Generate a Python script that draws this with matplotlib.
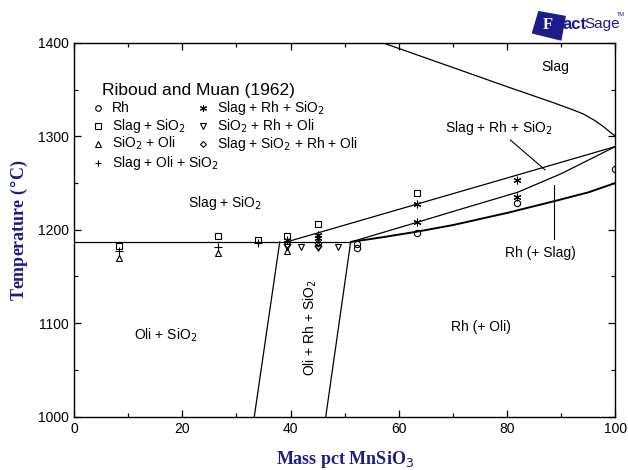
import matplotlib
matplotlib.use("Agg")
import matplotlib.pyplot as plt
from matplotlib.patches import Polygon
from matplotlib.ticker import MultipleLocator

# phase boundaries (mass pct MnSiO3, T in C)
liq_x = [57.0, 70.0, 80.0, 88.0, 92.0, 94.0, 96.0, 97.7, 99.0, 100.0]
liq_t = [1400, 1373.5, 1353, 1337, 1328.6, 1324, 1317.5, 1310.7, 1304.5, 1300]

eut_x = [0.0, 51.2]
eut_t = [1187, 1187]

upper_x = [39.3, 100.0]
upper_t = [1187, 1289]

mid_x = [51.2, 63.4, 72.0, 81.9, 90.0, 100.0]
mid_t = [1187, 1208, 1223, 1240, 1260, 1289]

low_x = [51.2, 57.0, 63.4, 70.0, 80.0, 89.0, 95.0, 100.0]
low_t = [1187, 1192, 1198, 1205, 1218, 1231, 1240, 1250]

left_x = [38.0, 33.3]
left_t = [1187, 1000]
right_x = [51.1, 46.5]
right_t = [1187, 1000]

# Riboud and Muan (1962) points
rh_x = [52.3, 52.3, 63.4, 81.9, 100.0]
rh_t = [1185, 1180.5, 1197, 1229, 1265]
sq_x = [8.4, 26.6, 33.9, 39.4, 45.1, 63.4]
sq_t = [1182.5, 1193.5, 1189, 1193, 1206.5, 1239]
tri_x = [8.4, 26.6, 39.4]
tri_t = [1170, 1175, 1177.5]
plus_x = [8.4, 26.6, 33.9]
plus_t = [1177, 1182, 1186]
ast_x = [39.4, 45.1, 45.1, 63.4, 63.4, 81.9, 81.9]
ast_t = [1189, 1194.5, 1191, 1228, 1208, 1253.5, 1234.5]
tdn_x = [39.4, 42.0, 45.1, 48.8]
tdn_t = [1182, 1181, 1180, 1181]
dia_x = [39.4, 45.1, 45.1]
dia_t = [1185, 1186, 1182.5]

ASTER = (6, 2, 0)
legend_rows = [
    ('o', 'Rh', ASTER, 'Slag + Rh + SiO$_2$'),
    ('s', 'Slag + SiO$_2$', 'v', 'SiO$_2$ + Rh + Oli'),
    ('^', 'SiO$_2$ + Oli', 'D', 'Slag + SiO$_2$ + Rh + Oli'),
    ('+', 'Slag + Oli + SiO$_2$', None, None),
]

navy = '#1c1c8a'
sans = ['Liberation Sans', 'DejaVu Sans']
serif = ['Liberation Serif', 'DejaVu Serif']

fig = plt.figure(figsize=(6.28, 4.70), dpi=100)
ax = fig.add_axes([0.1178, 0.1134, 0.8622, 0.7956])

lw = 0.9
ax.plot(liq_x, liq_t, color='black', lw=lw)
ax.plot(eut_x, eut_t, color='black', lw=lw)
ax.plot(upper_x, upper_t, color='black', lw=lw)
ax.plot(mid_x, mid_t, color='black', lw=lw)
ax.plot(low_x, low_t, color='black', lw=1.4)
ax.plot(left_x, left_t, color='black', lw=lw)
ax.plot(right_x, right_t, color='black', lw=lw)

# pointer lines
ax.plot([80.6, 87.0], [1296, 1264], color='black', lw=0.8)
ax.plot([88.6, 88.6], [1248, 1190], color='black', lw=0.8)


def marker_kw(m, ms=4.5):
    if m in ('+', ASTER):
        return dict(marker=m, color='black', ms=ms + 1, mew=0.8)
    return dict(marker=m, mfc='none', mec='black',
                ms=ms if m != 'D' else ms - 1, mew=0.8)


for xs, ts, m in [(rh_x, rh_t, 'o'), (sq_x, sq_t, 's'), (tri_x, tri_t, '^'),
                  (plus_x, plus_t, '+'), (ast_x, ast_t, ASTER),
                  (tdn_x, tdn_t, 'v'), (dia_x, dia_t, 'D')]:
    ax.plot(xs, ts, ls='none', **marker_kw(m))

# legend block
ax.text(5.1, 1349, 'Riboud and Muan (1962)', fontsize=12.5, family=sans,
        va='center', ha='left')
row_t = [1330.5, 1310.7, 1292, 1271.5]
for (m1, l1, m2, l2), t in zip(legend_rows, row_t):
    ax.plot([4.5], [t], ls='none', **marker_kw(m1, 4))
    ax.text(7.0, t, l1, fontsize=10, family=sans, va='center', ha='left')
    if m2:
        ax.plot([23.9], [t], ls='none', **marker_kw(m2, 4))
        ax.text(26.4, t, l2, fontsize=10, family=sans, va='center', ha='left')

# region labels
ax.text(88.8, 1374, 'Slag', fontsize=10, family=sans, ha='center', va='center')
ax.text(78.5, 1309, 'Slag + Rh + SiO$_2$', fontsize=10, family=sans,
        ha='center', va='center')
ax.text(27.9, 1229, 'Slag + SiO$_2$', fontsize=10, family=sans,
        ha='center', va='center')
ax.text(86.1, 1175, 'Rh (+ Slag)', fontsize=10, family=sans,
        ha='center', va='center')
ax.text(17.0, 1087, 'Oli + SiO$_2$', fontsize=10, family=sans,
        ha='center', va='center')
ax.text(75.2, 1096, 'Rh (+ Oli)', fontsize=10, family=sans,
        ha='center', va='center')
ax.text(43.6, 1095, 'Oli + Rh + SiO$_2$', fontsize=10, family=sans,
        ha='center', va='center', rotation=90)

ax.set_xlim(0, 100)
ax.set_ylim(1000, 1400)
ax.xaxis.set_major_locator(MultipleLocator(20))
ax.xaxis.set_minor_locator(MultipleLocator(10))
ax.yaxis.set_major_locator(MultipleLocator(100))
ax.yaxis.set_minor_locator(MultipleLocator(50))
ax.tick_params(which='both', direction='in', top=True, right=True,
               width=0.9, labelsize=10)
ax.tick_params(which='major', length=4.7)
ax.tick_params(which='minor', length=2.6)
for lab in ax.get_xticklabels() + ax.get_yticklabels():
    lab.set_family(sans)
for s in ax.spines.values():
    s.set_linewidth(1.0)

ax.set_xlabel('Mass pct MnSiO$_3$', fontsize=13, fontweight='bold',
              family=serif, color=navy, labelpad=10)
ax.set_ylabel('Temperature ($\\degree$C)', fontsize=13, fontweight='bold',
              family=serif, color=navy, labelpad=6)

# FactSage logo
fig.patches.append(Polygon([[0.858, 0.975], [0.900, 0.965], [0.893, 0.915],
                            [0.848, 0.930]], closed=True, color=navy,
                           transform=fig.transFigure))
fig.text(0.873, 0.947, 'F', fontsize=12, fontweight='bold', family=serif,
         color='white', ha='center', va='center')
fig.text(0.896, 0.948, 'act', fontsize=12, fontweight='bold', family=sans,
         color=navy, ha='left', va='center')
fig.text(0.931, 0.948, 'Sage', fontsize=11,
         family=['Liberation Sans Narrow', 'Liberation Sans'],
         color=navy, ha='left', va='center')
fig.text(0.988, 0.970, 'TM', fontsize=4, color=navy, ha='center',
         va='center', family=sans)

fig.savefig('out.png', dpi=100)
